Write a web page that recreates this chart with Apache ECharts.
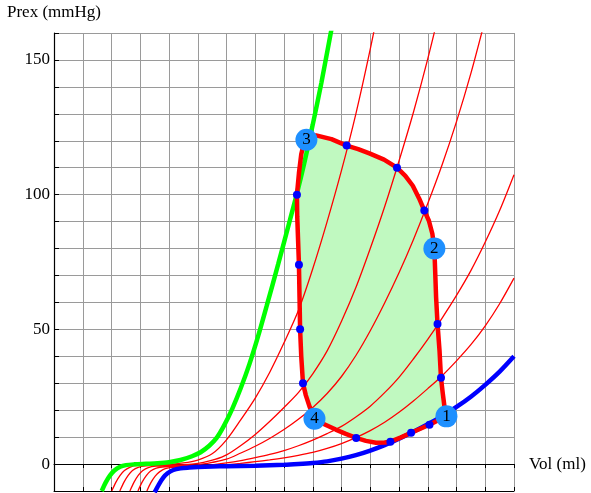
<!DOCTYPE html>
<html>
<head>
<meta charset="utf-8">
<script src="https://cdn.jsdelivr.net/npm/echarts@6/dist/echarts.min.js"></script>
<style>
  html, body { margin: 0; padding: 0; background: #fff; }
  #chart { width: 591px; height: 493px; }
</style>
</head>
<body>
<div id="chart"></div>
<script>
// Pressure–volume diagram: end-systolic (green) and end-diastolic (blue) relations,
// intermediate elastance curves (red) and one cardiac cycle loop.

const yTickLabels = [0, 50, 100, 150];
const xTickLabels = [50, 100, 150];

// End-systolic pressure–volume relation [volume, pressure]
const espvr = [[16.6,-10],[18,-6.8],[19.5,-4.2],[21,-2.4],[23,-1.0],[25,-0.4],[28,-0.1],[32,0.1],[36,0.3],
  [40,0.7],[44,1.5],[48,2.9],[51,4.4],[54,6.8],[56.5,9.6],[59,14],[62,20.5],[65,28.3],[68,37.2],[71,47.5],
  [74,58.8],[78,74.3],[82,90.3],[84.4,100],[87,111.5],[90,126],[93,141.5],[96,158.5],[97,164]];

// End-diastolic pressure–volume relation
const edpvr = [[35,-10.5],[36.5,-7.5],[38,-5.0],[39.5,-3.4],[41.5,-2.2],[44,-1.6],[47,-1.3],[50,-1.1],
  [55,-0.9],[60,-0.8],[70,-0.6],[80,-0.3],[85,0],[90,0.4],[95,1.0],[100,2.0],[105,3.3],[110,5.0],[115,7.0],
  [120,9.4],[125,12.0],[130,14.8],[135,17.8],[140,21.2],[145,25.0],[150,29.4],[155,34.3],[160,40]];

// Instantaneous elastance curves during ejection
const elastance1 = [[20.1,-10],[21.5,-6.8],[23,-4.2],[24.5,-2.4],[26.5,-1.1],[29,-0.5],[33,-0.35],[40,-0.1],
  [45,0.4],[50,1.5],[55,3.8],[60,9],[65,16.5],[70,24.5],[75,34],[80,45],[85,57],[90,72.5],[95,90],[100,109],
  [105,130],[110,154],[115,180]];
const elastance2 = [[22.9,-10],[24.3,-6.8],[25.8,-4.2],[27.3,-2.4],[29.3,-1.2],[32,-0.7],[36,-0.5],[42,-0.35],
  [48,0],[52,0.6],[56,1.7],[60,3.4],[65,6.9],[70,11],[75,15.8],[80,21],[85,26.5],[90,33.5],[95,42],[100,53],
  [105,65.5],[110,80],[115,95.5],[120,112.5],[125,130.5],[130,150.4],[135,172.2]];
const elastance3 = [[26.4,-10],[27.8,-6.8],[29.3,-4.2],[30.8,-2.5],[32.8,-1.3],[35.5,-0.8],[40,-0.65],[45,-0.55],
  [50,-0.3],[55,0.6],[60,1.8],[65,4.1],[70,6.6],[75,9.5],[80,12.8],[85,16.6],[90,21],[95,26.2],[100,32.5],[105,40.3],
  [110,49.5],[115,59.8],[120,71],[125,83.3],[130,96.7],[135,111.1],[140,127.1],[145,145],[150,165.1]];
const elastance4 = [[29.2,-10],[30.6,-6.8],[32.1,-4.3],[33.6,-2.6],[35.6,-1.5],[38.5,-1.0],[43,-0.85],[50,-0.75],
  [55,-0.3],[60,0.4],[65,1.3],[70,2.4],[75,3.6],[80,5.0],[85,6.8],[90,8.9],[95,11.3],[100,14],[105,17.5],
  [110,21.5],[115,26.5],[120,32.2],[125,39],[130,46.3],[135,54.2],[140,62.6],[145,71.8],[150,82.4],[155,94.1],[160,107.4]];
const elastance5 = [[32.3,-10],[33.7,-6.9],[35.2,-4.5],[36.7,-2.9],[38.7,-1.7],[41.5,-1.2],[46,-1.0],[50,-0.95],
  [55,-0.75],[60,-0.35],[65,0.25],[70,0.9],[75,1.55],[80,2.3],[85,3.2],[90,4.3],[95,5.8],[100,7.6],[105,9.8],
  [110,12.4],[115,15.5],[120,19.2],[125,23.4],[130,28],[135,32.8],[140,38.3],[145,44.3],[150,51.3],[155,59.5],[160,69]];

// Cardiac cycle loop: 1 -> 2 (isovolumic contraction), 2 -> 3 (ejection),
// 3 -> 4 (isovolumic relaxation), 4 -> 1 (filling)
const cycleLoop = [[136.5,17.7],[135.8,21.4],[135.2,26.5],[134.6,32],[134.1,42],[133.4,52],[132.9,62],[132.6,71],
  [132.3,80],[131.6,85.5],[130.4,90.3],[128.8,94.1],[127,98.6],[124.8,103.3],[122.2,107],[119.3,110],[114.8,113],
  [109.7,115.3],[105.8,116.9],[101.8,118.2],[96.5,120.6],[91.2,122],[87.8,121.2],[86.8,118.5],[86,115],[85.2,108],
  [84.5,100],[84.6,92],[84.9,83],[85.2,74],[85.4,62],[85.6,50],[86,40],[86.6,30],[87.6,25.5],[89,21],[90.6,17],
  [94,14.8],[98,12.8],[101.5,11.2],[105.1,9.7],[108.5,8.6],[112,7.9],[115,8.0],[117,8.3],[120.5,9.8],[124.2,11.6],
  [127.4,13.1],[130.6,14.6],[133.5,16.2],[136.5,17.7]];

// Time samples along the loop
const sampleDots = [[134.6,32],[133.4,52],[128.8,94.1],[119.3,110],[101.8,118.2],[84.5,100],[85.2,74],[85.6,50],
  [86.6,30],[105.1,9.7],[117,8.3],[124.2,11.6],[130.6,14.6]];

// Numbered phase corners
const phaseNames = ['1', '2', '3', '4'];
const phasePoints = [[136.5,17.7],[132.3,80],[87.8,120.4],[90.6,16.8]];

const serif = 'Liberation Serif, Times New Roman, DejaVu Serif, serif';
const chart = echarts.init(document.getElementById('chart'), null, { renderer: 'canvas' });

function thinRed(data) {
  return {
    type: 'line', data, showSymbol: false, smooth: 0.3, clip: true, z: 3, silent: true,
    lineStyle: { color: '#ff0000', width: 1.3 }
  };
}

const option = {
  animation: false,
  backgroundColor: '#ffffff',
  grid: { left: 54, right: 77, top: 33, bottom: 2, containLabel: false, outerBoundsMode: 'none' },
  xAxis: [{
    type: 'value', min: 0, max: 160, interval: 10,
    axisLine: { onZero: true, lineStyle: { color: '#000', width: 1 } },
    axisTick: { show: true, length: 4, lineStyle: { color: '#000' } },
    axisLabel: {
      color: '#000', fontFamily: serif, fontSize: 17, margin: 6,
      formatter: v => (xTickLabels.indexOf(v) >= 0 ? String(v) : '')
    },
    splitLine: { show: true, lineStyle: { color: '#9a9a9a', width: 1 } }
  }, {
    type: 'value', min: 0, max: 160, interval: 10, position: 'bottom',
    axisLine: { onZero: true, lineStyle: { color: '#000', width: 1 } },
    axisTick: { show: true, inside: true, length: 4, lineStyle: { color: '#000' } },
    axisLabel: { show: false },
    splitLine: { show: false }
  }],
  yAxis: {
    type: 'value', min: -10, max: 160, interval: 10,
    axisLine: { onZero: false, lineStyle: { color: '#000', width: 1.2 } },
    axisTick: { show: true, inside: true, length: 5, lineStyle: { color: '#000' } },
    axisLabel: {
      color: '#000', fontFamily: serif, fontSize: 17, margin: 4,
      formatter: v => (yTickLabels.indexOf(v) >= 0 ? String(v) : '')
    },
    splitLine: { show: true, lineStyle: { color: '#9a9a9a', width: 1 } }
  },
  graphic: [
    { type: 'text', left: 7, top: 4, style: { text: 'Prex (mmHg)', font: '17px ' + serif, fill: '#000' } },
    { type: 'text', left: 529, top: 456, style: { text: 'Vol (ml)', font: '17px ' + serif, fill: '#000' } }
  ],
  series: [
    {
      // filled interior of the loop
      type: 'custom', data: cycleLoop, z: 1, silent: true,
      renderItem: function (params, api) {
        if (params.dataIndex !== 0) return null;
        const pts = cycleLoop.map(p => api.coord(p));
        return { type: 'polygon', shape: { points: pts }, style: { fill: '#c0f9c0', stroke: null } };
      }
    },
    thinRed(elastance1), thinRed(elastance2), thinRed(elastance3), thinRed(elastance4), thinRed(elastance5),
    {
      type: 'line', data: espvr, showSymbol: false, smooth: 0.3, clip: true, z: 4, silent: true,
      lineStyle: { color: '#00ff00', width: 4.5 }
    },
    {
      type: 'line', data: edpvr, showSymbol: false, smooth: 0.3, clip: true, z: 4, silent: true,
      lineStyle: { color: '#0000ff', width: 4.5 }
    },
    {
      type: 'line', data: cycleLoop, showSymbol: false, smooth: false, z: 5, silent: true,
      lineStyle: { color: '#ff0000', width: 4.5, join: 'round' }
    },
    {
      type: 'scatter', data: sampleDots, symbol: 'circle', symbolSize: 8, z: 6, silent: true,
      itemStyle: { color: '#0000ff', opacity: 1 }
    },
    {
      type: 'scatter', z: 7, silent: true, symbol: 'circle', symbolSize: 22,
      data: phasePoints.map((p, i) => ({ value: p, name: phaseNames[i] })),
      itemStyle: { color: '#1e90ff', opacity: 1 },
      label: {
        show: true, position: 'inside', formatter: p => p.name,
        color: '#000', fontFamily: serif, fontSize: 17
      }
    }
  ]
};

chart.setOption(option);
</script>
</body>
</html>
